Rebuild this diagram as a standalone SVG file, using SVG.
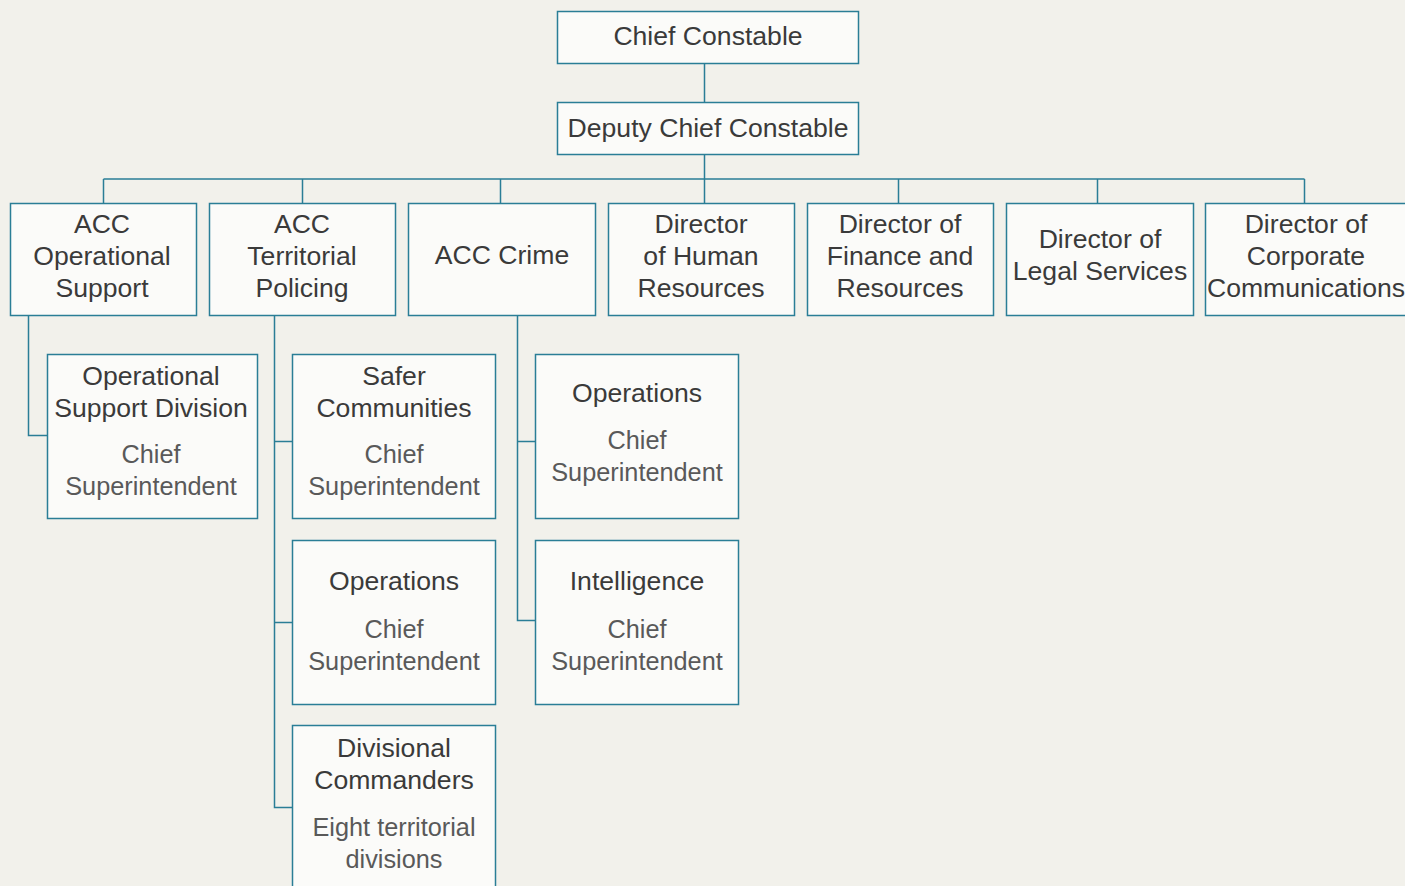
<svg xmlns="http://www.w3.org/2000/svg" width="1405" height="886" viewBox="0 0 1405 886">
<style>
.bx{fill:#fbfbf9;stroke:#2a7e96;stroke-width:1.5}
.ln{fill:none;stroke:#2a7e96;stroke-width:1.5}
.t{font-family:"Liberation Sans",Arial,sans-serif;font-size:26.6px;fill:#3a3a3a;text-anchor:middle}
.s{font-family:"Liberation Sans",Arial,sans-serif;font-size:25.3px;fill:#595959;text-anchor:middle}
</style>
<rect width="1405" height="886" fill="#f2f1eb"/>
<g id="connectors">
<path class="ln" d="M704.5 63V102M704.5 154V203M103.5 179H1304.5M103.5 179V203M302.5 179V203M500.5 179V203M898.5 179V203M1097.5 179V203M1304.5 179V203"/>
<path class="ln" d="M28.5 315V435.5H47"/>
<path class="ln" d="M274.5 315V807.5H292M274.5 441.5H292M274.5 622.5H292"/>
<path class="ln" d="M517.5 315V620.5H535M517.5 441.5H535"/>
</g>
<g id="chief-constable"><rect class="bx" x="557.5" y="11.5" width="301" height="52"/><text class="t" x="708" y="45">Chief Constable</text></g>
<g id="deputy-chief-constable"><rect class="bx" x="557.5" y="102.5" width="301" height="52"/><text class="t" x="708" y="137">Deputy Chief Constable</text></g>
<g id="acc-operational-support"><rect class="bx" x="10.5" y="203.5" width="186" height="112"/><text class="t" x="102" y="233">ACC</text><text class="t" x="102" y="265">Operational</text><text class="t" x="102" y="297">Support</text></g>
<g id="acc-territorial-policing"><rect class="bx" x="209.5" y="203.5" width="186" height="112"/><text class="t" x="302" y="233">ACC</text><text class="t" x="302" y="265">Territorial</text><text class="t" x="302" y="297">Policing</text></g>
<g id="acc-crime"><rect class="bx" x="408.5" y="203.5" width="187" height="112"/><text class="t" x="502" y="264">ACC Crime</text></g>
<g id="director-hr"><rect class="bx" x="608.5" y="203.5" width="186" height="112"/><text class="t" x="701" y="233">Director</text><text class="t" x="701" y="265">of Human</text><text class="t" x="701" y="297">Resources</text></g>
<g id="director-finance"><rect class="bx" x="807.5" y="203.5" width="186" height="112"/><text class="t" x="900" y="233">Director of</text><text class="t" x="900" y="265">Finance and</text><text class="t" x="900" y="297">Resources</text></g>
<g id="director-legal"><rect class="bx" x="1006.5" y="203.5" width="187" height="112"/><text class="t" x="1100" y="248">Director of</text><text class="t" x="1100" y="280">Legal Services</text></g>
<g id="director-corporate"><rect class="bx" x="1205.5" y="203.5" width="205" height="112"/><text class="t" x="1306" y="233">Director of</text><text class="t" x="1306" y="265">Corporate</text><text class="t" x="1306" y="297">Communications</text></g>
<g id="operational-support-division"><rect class="bx" x="47.5" y="354.5" width="210" height="164"/><text class="t" x="151" y="385">Operational</text><text class="t" x="151" y="417">Support Division</text><text class="s" x="151" y="463">Chief</text><text class="s" x="151" y="495">Superintendent</text></g>
<g id="safer-communities"><rect class="bx" x="292.5" y="354.5" width="203" height="164"/><text class="t" x="394" y="385">Safer</text><text class="t" x="394" y="417">Communities</text><text class="s" x="394" y="463">Chief</text><text class="s" x="394" y="495">Superintendent</text></g>
<g id="operations-territorial"><rect class="bx" x="292.5" y="540.5" width="203" height="164"/><text class="t" x="394" y="590">Operations</text><text class="s" x="394" y="638">Chief</text><text class="s" x="394" y="670">Superintendent</text></g>
<g id="divisional-commanders"><rect class="bx" x="292.5" y="725.5" width="203" height="170"/><text class="t" x="394" y="757">Divisional</text><text class="t" x="394" y="789">Commanders</text><text class="s" x="394" y="836">Eight territorial</text><text class="s" x="394" y="868">divisions</text></g>
<g id="operations-crime"><rect class="bx" x="535.5" y="354.5" width="203" height="164"/><text class="t" x="637" y="402">Operations</text><text class="s" x="637" y="449">Chief</text><text class="s" x="637" y="481">Superintendent</text></g>
<g id="intelligence"><rect class="bx" x="535.5" y="540.5" width="203" height="164"/><text class="t" x="637" y="590">Intelligence</text><text class="s" x="637" y="638">Chief</text><text class="s" x="637" y="670">Superintendent</text></g>
</svg>
